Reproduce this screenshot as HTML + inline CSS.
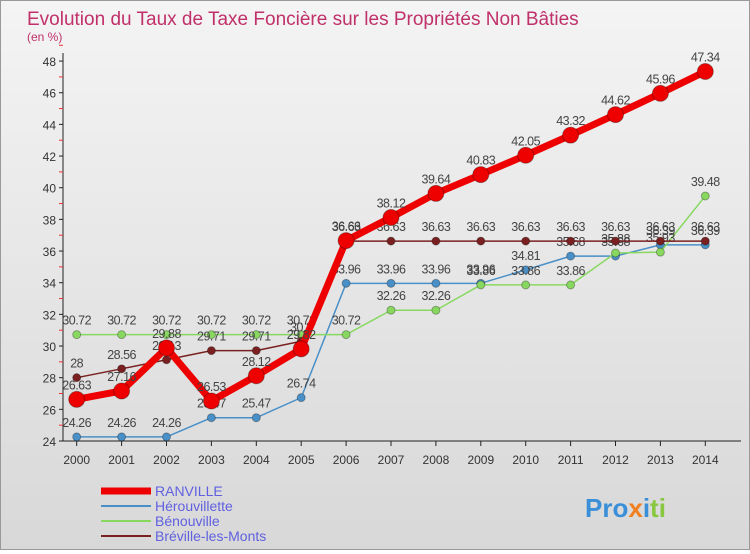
<!DOCTYPE html>
<html><head><meta charset="utf-8"><style>
body{margin:0;width:750px;height:550px;overflow:hidden;font-family:"Liberation Sans",sans-serif;}
#wrap{position:relative;width:748px;height:548px;border:1px solid #999;background:linear-gradient(180deg,#f4f4f4,#d8d8d8);}
</style></head><body>
<div id="wrap">
<svg id="c" width="748" height="548">
<text x="26" y="24" font-size="19" fill="#c0306a">Evolution du Taux de Taxe Foncière sur les Propriétés Non Bâties</text>
<text x="26" y="40" font-size="12" fill="#c0306a">(en %)</text>
</svg>
</div>
<script>
const years=[2000,2001,2002,2003,2004,2005,2006,2007,2008,2009,2010,2011,2012,2013,2014];
const yTicks=[24,26,28,30,32,34,36,38,40,42,44,46,48];
const ranville=[26.63,27.16,29.88,26.53,28.12,29.82,36.66,38.12,39.64,40.83,42.05,43.32,44.62,45.96,47.34];
const herouvillette=[24.26,24.26,24.26,25.47,25.47,26.74,33.96,33.96,33.96,33.96,34.81,35.68,35.68,36.39,36.39];
const benouville=[30.72,30.72,30.72,30.72,30.72,30.72,30.72,32.26,32.26,33.86,33.86,33.86,35.88,35.93,39.48];
const breville=[28,28.56,29.13,29.71,29.71,30.3,36.63,36.63,36.63,36.63,36.63,36.63,36.63,36.63,36.63];
const svg=document.getElementById('c');const NS='http://www.w3.org/2000/svg';
const X=i=>75.7+i*44.9;const Y=v=>440-(v-24)*15.83;
function mk(t,a){const e=document.createElementNS(NS,t);for(const k in a)e.setAttribute(k,a[k]);svg.appendChild(e);return e;}
let ax=mk('line',{x1:62,y1:52,x2:62,y2:440,stroke:'#222'});


let bx=mk('line',{x1:62,y1:440,x2:740,y2:440,stroke:'#222'});


yTicks.forEach(v=>{mk('line',{x1:58,y1:Y(v),x2:62,y2:Y(v),stroke:'#222'});
mk('line',{x1:58,y1:Y(v+1),x2:62,y2:Y(v+1),stroke:'#e33'});
const t=mk('text',{x:55,y:Y(v)+5,'font-size':12,fill:'#333','text-anchor':'end'});t.textContent=v;

});
years.forEach((y,i)=>{mk('line',{x1:X(i),y1:440,x2:X(i),y2:445,stroke:'#222'});
const t=mk('text',{x:X(i),y:463,'font-size':12,fill:'#333','text-anchor':'middle'});t.textContent=y;

});
function series(d,col,w,r,name){
const g=mk('g',{});


const p=mk('polyline',{points:d.map((v,i)=>X(i)+','+Y(v)).join(' '),fill:'none',stroke:col,'stroke-width':w,'stroke-linejoin':'round'});g.appendChild(p);
d.forEach((v,i)=>{const c=mk('circle',{cx:X(i),cy:Y(v),r:r,fill:col,stroke:'rgba(0,0,0,0.3)'});g.appendChild(c);


const t=mk('text',{x:X(i),y:Y(v)-10,'font-size':12.5,fill:'#444','text-anchor':'middle','letter-spacing':'-0.5'});t.textContent=v;g.appendChild(t);

});}
series(herouvillette,'#4a90c8',1.5,4,'herouvillette');
series(benouville,'#88d860',1.5,4,'benouville');
series(breville,'#7a2020',1.5,4,'breville');
series(ranville,'#ee0000',7,8,'ranville');
const names=['RANVILLE','Hérouvillette','Bénouville','Bréville-les-Monts'];
const cols=['#ee0000','#4a90c8','#88d860','#7a2020'];const ws=[7,2,2,2];
names.forEach((n,i)=>{const y=490+i*15;
const l=mk('line',{x1:100,y1:y,x2:150,y2:y,stroke:cols[i],'stroke-width':ws[i]});


const t=mk('text',{x:154,y:y+5,'font-size':14,fill:'#6060e0'});t.textContent=n;

});
const lg=mk('text',{x:584,y:516,'font-size':26,'font-weight':'bold',fill:'#3a8fd8'});
lg.innerHTML='<tspan fill="#3a8fd8">Pro</tspan><tspan fill="#f08020">x</tspan><tspan fill="#3a8fd8">i</tspan><tspan fill="#88c840">ti</tspan>';


</script>
</body></html>
